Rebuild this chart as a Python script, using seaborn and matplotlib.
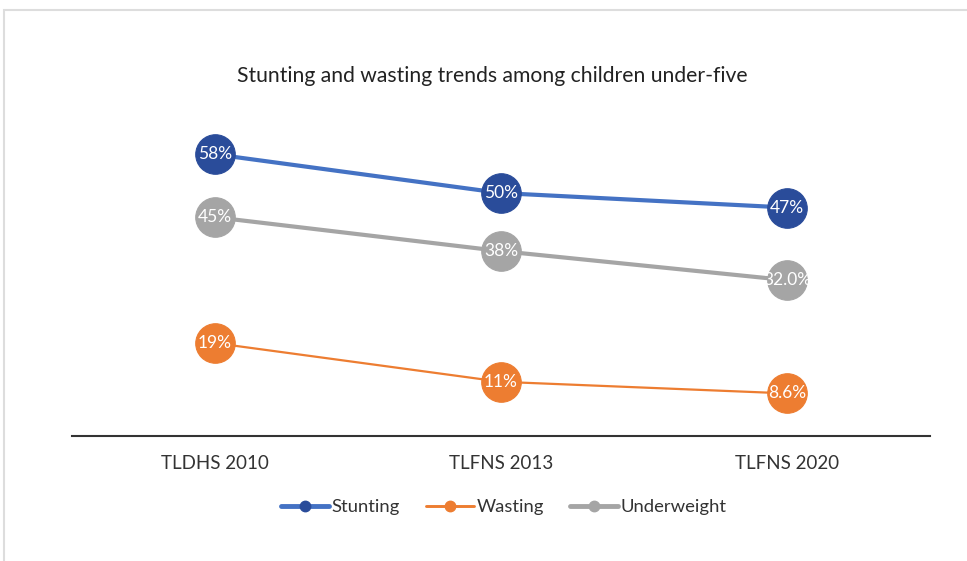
import matplotlib
matplotlib.use("Agg")
import matplotlib.pyplot as plt
from matplotlib.lines import Line2D
from matplotlib.patches import Rectangle
import pandas as pd
import seaborn as sns

# data
surveys = ["TLDHS 2010", "TLFNS 2013", "TLFNS 2020"]
stunting = [58, 50, 47]
wasting = [19, 11, 8.6]
underweight = [45, 38, 32.0]
stunting_labels = ["58%", "50%", "47%"]
wasting_labels = ["19%", "11%", "8.6%"]
underweight_labels = ["45%", "38%", "32.0%"]

sns.set_theme(style="white")
plt.rcParams["font.family"] = ["Lato", "DejaVu Sans"]

series = [
    ("Stunting", stunting, stunting_labels, "#4472C4", "#2A4C9A", 3.0),
    ("Wasting", wasting, wasting_labels, "#ED7D31", "#ED7D31", 1.6),
    ("Underweight", underweight, underweight_labels, "#A5A5A5", "#A5A5A5", 3.0),
]

fig = plt.figure(figsize=(9.67, 5.61), dpi=100)
ax = fig.add_axes([72 / 967, 1 - 436 / 561, 858 / 967, 336 / 561])

x = list(range(len(surveys)))
handles = []
for name, vals, labels, line_c, mark_c, lw in series:
    df = pd.DataFrame({"x": x, "y": vals})
    sns.lineplot(data=df, x="x", y="y", ax=ax, color=line_c, linewidth=lw,
                 marker="o", markersize=28.5, markerfacecolor=mark_c,
                 markeredgecolor=mark_c, legend=False, zorder=3)
    for xi, yi, lab in zip(x, vals, labels):
        ax.text(xi, yi, lab, color="white", ha="center", va="center",
                fontsize=12.5, zorder=5)
    handles.append(Line2D([0], [0], color=line_c, linewidth=lw + 0.5,
                          marker="o", markersize=7.5, markerfacecolor=mark_c,
                          markeredgecolor=mark_c, label=name))

ax.set_xlim(-0.5, 2.5)
ax.set_ylim(-0.2, -0.2 + 336 / 4.84)
ax.set_xticks(x)
ax.set_xticklabels(surveys, fontsize=13.5, color="#333333")
ax.tick_params(axis="x", length=0, pad=14)
ax.set_yticks([])
ax.set_xlabel("")
ax.set_ylabel("")
for side in ["top", "left", "right"]:
    ax.spines[side].set_visible(False)
ax.spines["bottom"].set_color("#333333")
ax.spines["bottom"].set_linewidth(1.5)

fig.text(492 / 967, 1 - 76 / 561, "Stunting and wasting trends among children under-five",
         ha="center", va="center", fontsize=15.2, color="#222222")

fig.legend(handles=handles, loc="center", bbox_to_anchor=(504 / 967, 1 - 507 / 561),
           ncol=3, frameon=False, fontsize=13.3, handlelength=2.6,
           handletextpad=0.15, columnspacing=1.4, labelcolor="#333333")

# light frame around the chart area
fig.patches.append(Rectangle((4 / 967, -0.05), 1.2, 1.05 - 10 / 561,
                             transform=fig.transFigure, fill=False,
                             edgecolor="#DDDDDD", linewidth=1.5))

fig.savefig("out.png", dpi=100)
